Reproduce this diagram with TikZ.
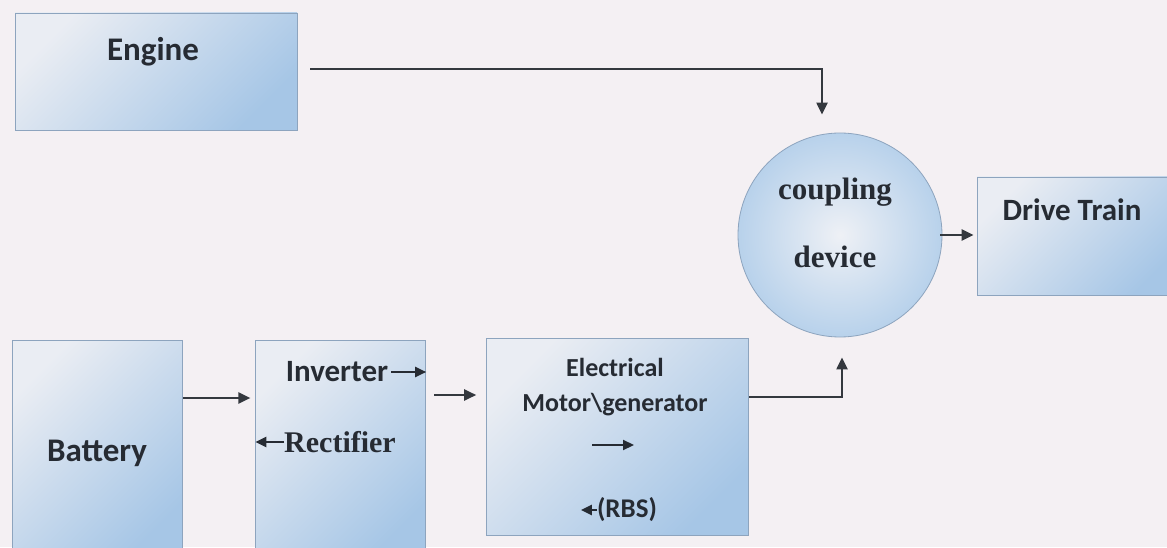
\documentclass[tikz,border=0pt]{standalone}
\usepackage{fontspec}
\usepackage{xcolor}
\usepackage{tikz}
\usetikzlibrary{arrows.meta,positioning}
\newfontfamily\unitfont{Carlito}
\newfontfamily\serifunit{Liberation Serif}
\definecolor{paper}{HTML}{F4F0F3}
\definecolor{unitlight}{HTML}{EAEDF3}
\definecolor{unitblue}{HTML}{A6C6E6}
\definecolor{unitedge}{HTML}{8DA4BE}
\definecolor{ink}{HTML}{262B33}
\definecolor{wire}{HTML}{34383E}

\begin{document}
\begin{tikzpicture}[x=1pt, y=1pt,
  unit/.style={draw=unitedge, line width=0.8pt, top color=unitlight,
    bottom color=unitblue, shading angle=45, inner sep=0pt},
  hub/.style={circle, draw=unitedge, line width=0.8pt, inner color=unitlight!80!white,
    outer color=unitblue!80, minimum size=204pt, inner sep=0pt},
  hubtext/.style={text=ink, inner sep=0pt, font=\serifunit\bfseries\fontsize{31}{34}\selectfont},
  caption/.style={text=ink, inner sep=0pt, font=\unitfont\bfseries\fontsize{33}{36}\selectfont},
  smallcap/.style={text=ink, inner sep=0pt, font=\unitfont\bfseries\fontsize{26}{30}\selectfont},
  serifcap/.style={text=ink, inner sep=0pt, font=\serifunit\bfseries\fontsize{30}{34}\selectfont},
  flow/.style={-{Triangle[length=12pt,width=11pt]}, draw=wire, line width=2.2pt},
  tick/.style={-{Triangle[length=11pt,width=10pt]}, draw=ink, line width=2.2pt}
]
\useasboundingbox (0,0) rectangle (1167,547);
\fill[paper] (0,0) rectangle (1167,547);

% top row
\node[unit, minimum width=282pt, minimum height=117pt] (engine) at (156,475.5) {};
\node[caption] at (153,495) {Engine};
\node[hub] (coupling) at (840,312) {};
\node[hubtext] at (835,355) {coupling};
\node[hubtext] at (835,290) {device};
\node[unit, minimum width=203pt, minimum height=118pt] (drive) at (1078.5,311) {};
\node[caption, font=\unitfont\bfseries\fontsize{31}{34}\selectfont] at (1072,337) {Drive Train};

% bottom row
\node[unit, minimum width=170pt, minimum height=220pt] (battery) at (97,97) {};
\node[unit, minimum width=170pt, minimum height=220pt, right=73pt of battery] (inverter) {};
\node[unit, minimum width=262pt, minimum height=197pt, right=60pt of inverter, yshift=13.5pt] (motor) {};
\node[caption] at (97,94) {Battery};
\node[caption, font=\unitfont\bfseries\fontsize{31}{34}\selectfont] (invtext) at (337,175) {Inverter};
\node[serifcap] (rectext) at (340,105) {Rectifier};
\node[smallcap] (electext) at (615,180) {Electrical};
\node[smallcap] (motortext) at (615,142) {Motor\textbackslash generator};
\node[smallcap, font=\unitfont\bfseries\fontsize{27}{30}\selectfont] (rbstext) at (627,37) {(RBS)};
\coordinate (midtail) at (592,102);
\coordinate (midhead) at (634,102);

% arrows inside the boxes
\draw[tick] ([xshift=3pt]invtext.east) -- (invtext.east -| inverter.east);
\draw[tick] (rectext.west) -- (rectext.west -| inverter.west);
\draw[tick] (midtail) -- (midhead);
\draw[tick] (rbstext.west) -- ++(-16,0);

% connectors
\draw[flow, shorten <=13pt, shorten >=18pt] ([yshift=2.5pt]engine.east) -| ([xshift=-18pt]coupling.north);
\draw[flow, shorten <=-2pt, shorten >=3pt] (coupling.east) -- (coupling.east -| drive.west);
\draw[flow, shorten <=1pt, shorten >=5pt] ([yshift=52pt]battery.east) -- ([yshift=52pt]inverter.west);
\draw[flow, shorten <=8pt, shorten >=10pt] ([yshift=55pt]inverter.east) -- ([yshift=55pt]inverter.east -| motor.west);
\draw[flow, shorten >=20pt] ([yshift=39.5pt]motor.east) -| ([xshift=2pt]coupling.south);
\end{tikzpicture}
\end{document}
